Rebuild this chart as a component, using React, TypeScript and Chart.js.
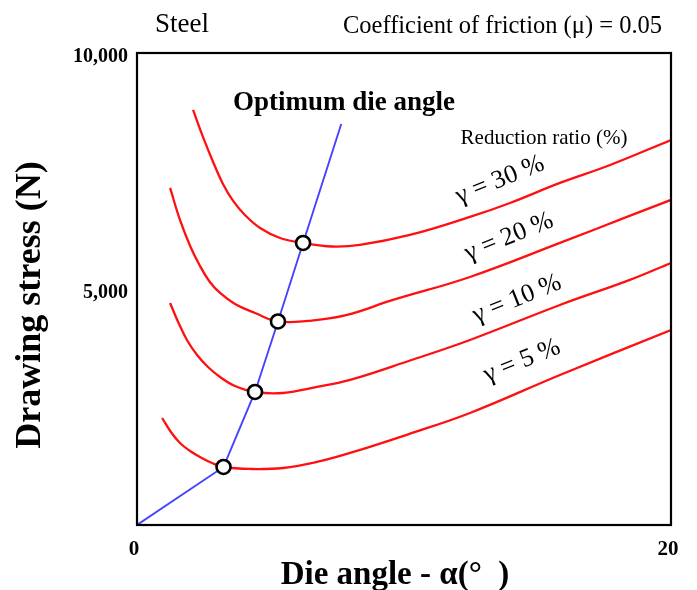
import React, { useEffect, useRef } from "react";
import { Chart, registerables } from "chart.js";
Chart.register(...registerables);

// Die angle (deg) and drawing stress (N) for each reduction ratio
const angle30 = [2.1, 2.47, 2.85, 3.22, 3.6, 4.04, 4.61, 5.36, 6.22, 7.3, 8.35, 10.22, 12.47, 13.97, 15.84, 17.72, 20];
const stress30 = [8794, 8222, 7692, 7226, 6866, 6569, 6293, 6080, 5976, 5900, 5935, 6145, 6527, 6823, 7247, 7628, 8158];

const angle20 = [1.24, 1.61, 1.99, 2.36, 2.73, 3.11, 3.67, 4.42, 5.28, 6.4, 7.79, 9.59, 12.47, 15.84, 18.35, 20];
const stress20 = [7141, 6463, 5912, 5488, 5149, 4916, 4683, 4492, 4312, 4323, 4440, 4768, 5255, 5976, 6527, 6887];

const angle10 = [1.24, 1.54, 1.87, 2.25, 2.66, 3.11, 3.67, 4.42, 5.47, 6.74, 7.98, 10.2, 12.47, 15.84, 18.46, 20];
const stress10 = [4704, 4302, 3920, 3602, 3348, 3136, 2945, 2818, 2797, 2924, 3073, 3480, 3920, 4662, 5192, 5552];

const angle5 = [0.94, 1.27, 1.61, 1.99, 2.36, 2.81, 3.24, 4.23, 5.47, 6.74, 7.98, 10.2, 12.47, 15.84, 20];
const stress5 = [2267, 1971, 1738, 1568, 1441, 1314, 1229, 1187, 1208, 1335, 1526, 1930, 2373, 3178, 4132];

// Optimum die angle line (origin, optimum points, end)
const optAngle = [0, 3.24, 4.42, 5.28, 6.22, 7.65];
const optStress = [0, 1229, 2818, 4312, 5976, 8497];
const optMarker = [0, 1, 1, 1, 1, 0];

const xTicks = [0, 20];
const yTicks = [5000, 10000];

const curveLabels = ["γ = 30 %", "γ = 20 %", "γ = 10 %", "γ = 5 %"];
const xTitle = "Die angle - α(°  )";
const yTitle = "Drawing stress (N)";

const SERIF = "'Liberation Serif', 'Times New Roman', serif";

const pts = (xs: number[], ys: number[]) => xs.map((x, i) => ({ x, y: ys[i] }));

export default function App() {
  const ref = useRef<HTMLCanvasElement>(null);

  useEffect(() => {
    const canvas = ref.current;
    if (!canvas) return;

    const annot = {
      id: "annot",
      afterDatasetsDraw(chart: any) {
        const { ctx, chartArea } = chart;
        ctx.save();
        // plot frame
        ctx.strokeStyle = "#000";
        ctx.lineWidth = 2.2;
        ctx.strokeRect(chartArea.left, chartArea.top, chartArea.right - chartArea.left, chartArea.bottom - chartArea.top);

        ctx.fillStyle = "#000";
        ctx.textBaseline = "middle";
        ctx.font = `27px ${SERIF}`;
        ctx.textAlign = "left";
        ctx.fillText("Steel", 155, 25);
        ctx.font = `24.5px ${SERIF}`;
        ctx.textAlign = "right";
        ctx.fillText("Coefficient of friction (μ) = 0.05", 662, 27);

        ctx.textAlign = "center";
        ctx.font = `bold 27px ${SERIF}`;
        ctx.fillText("Optimum die angle", 344, 103);
        ctx.font = `21px ${SERIF}`;
        ctx.fillText("Reduction ratio (%)", 544, 138);

        const centers = [
          [500, 180],
          [509, 237],
          [517, 299],
          [522, 361],
        ];
        ctx.font = `26px ${SERIF}`;
        curveLabels.forEach((t, i) => {
          ctx.save();
          ctx.translate(centers[i][0], centers[i][1]);
          ctx.rotate((-22 * Math.PI) / 180);
          ctx.fillText(t, 0, 0);
          ctx.restore();
        });

        // axis titles
        ctx.font = `bold 33px ${SERIF}`;
        ctx.fillText(xTitle, 395, 575);
        ctx.save();
        ctx.translate(31, 305);
        ctx.rotate(-Math.PI / 2);
        ctx.font = `bold 36px ${SERIF}`;
        ctx.fillText(yTitle, 0, 0);
        ctx.restore();
        ctx.restore();
      },
    };

    const red = (data: any[]) => ({
      data,
      borderColor: "#ff1010",
      borderWidth: 2.3,
      pointRadius: 0,
      tension: 0.4,
      fill: false,
      order: 2,
    });

    const chart = new Chart(canvas, {
      type: "line",
      data: {
        datasets: [
          {
            data: pts(optAngle, optStress),
            borderColor: "#4444ff",
            borderWidth: 1.9,
            tension: 0,
            pointRadius: optMarker.map((m) => (m ? 7 : 0)),
            pointBackgroundColor: "#ffffff",
            pointBorderColor: "#000000",
            pointBorderWidth: 2.6,
            order: 0,
          } as any,
          red(pts(angle30, stress30)),
          red(pts(angle20, stress20)),
          red(pts(angle10, stress10)),
          red(pts(angle5, stress5)),
        ],
      },
      options: {
        responsive: false,
        animation: false,
        layout: { padding: { top: 53, right: 26, bottom: 0, left: 0 } },
        plugins: { legend: { display: false }, tooltip: { enabled: false } },
        scales: {
          x: {
            type: "linear",
            min: 0,
            max: 20,
            afterBuildTicks: (s: any) => {
              s.ticks = xTicks.map((v) => ({ value: v }));
            },
            afterFit: (s: any) => {
              s.height = 65;
            },
            grid: { display: false, drawTicks: false },
            border: { display: false },
            ticks: {
              color: "#000",
              padding: 12,
              maxRotation: 0,
              labelOffset: -3,
              font: { family: SERIF, size: 21, weight: "bold" },
            },
          },
          y: {
            type: "linear",
            min: 0,
            max: 10000,
            afterBuildTicks: (s: any) => {
              s.ticks = yTicks.map((v) => ({ value: v }));
            },
            afterFit: (s: any) => {
              s.width = 137;
            },
            grid: { display: false, drawTicks: false },
            border: { display: false },
            ticks: {
              color: "#000",
              padding: 9,
              labelOffset: 4,
              font: { family: SERIF, size: 20, weight: "bold" },
              callback: (v: any) => Number(v).toLocaleString("en-US"),
            },
          },
        },
      },
      plugins: [annot],
    });
    return () => chart.destroy();
  }, []);

  return (
    <div style={{ position: "absolute", left: 0, top: 0, width: 697, height: 590, background: "#fff" }}>
      <canvas ref={ref} width={697} height={590} />
    </div>
  );
}
